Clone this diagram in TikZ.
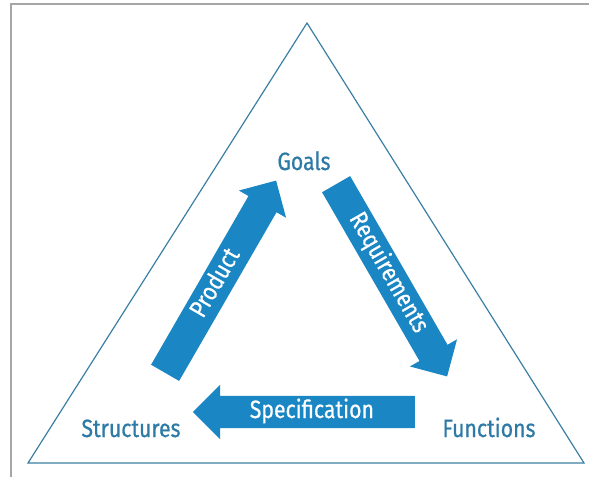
\documentclass[tikz,border=0pt]{standalone}
\usepackage{fontspec}
\setmainfont{Fira Sans}[FakeStretch=0.85, FakeBold=0.6]
\usetikzlibrary{shapes.arrows}
\definecolor{arrowblue}{HTML}{1A86C3}
\definecolor{labelblue}{HTML}{2D7AA6}
\definecolor{edgeblue}{HTML}{3B7FA3}

\begin{document}
\begin{tikzpicture}[
        x=1pt, y=-1pt,
        corner/.style={text=labelblue, font=\fontsize{25}{27}\selectfont, anchor=base, inner sep=0pt},
        bigarrow/.style={single arrow, draw=none, fill=arrowblue, text=white,
            font=\fontsize{25}{27}\selectfont, minimum height=222pt,
            single arrow head extend=11pt, single arrow tip angle=90,
            text height=17pt, text depth=5pt, inner xsep=0pt, inner ysep=5pt, anchor=tail},
    ]
    \useasboundingbox (0,0) rectangle (589,477);
    % frame
    \draw[gray!70, line width=1.5pt] (11,477) -- (11,4) -- (589,4);

    % triangle
    \coordinate (apex) at (307,23);
    \coordinate (leftcorner) at (28,463);
    \coordinate (rightcorner) at (584,463);
    \draw[edgeblue, line width=1.2pt] (apex) -- (leftcorner) -- (rightcorner) -- cycle;

    % labels
    \node[corner] (goals) at (304,170) {Goals};
    \node[corner] (structures) at (131,437) {Structures};
    \node[corner] (functions) at (489,437) {Functions};

    % arrows
    \node[bigarrow, rotate=60] (product) at (165,373) {Product};
    \node[bigarrow, rotate=-60] (requirements) at (336,184) {Requirements};
    \node[bigarrow, shape border rotate=180] (specification) at (415,412) {Specification};
\end{tikzpicture}
\end{document}
